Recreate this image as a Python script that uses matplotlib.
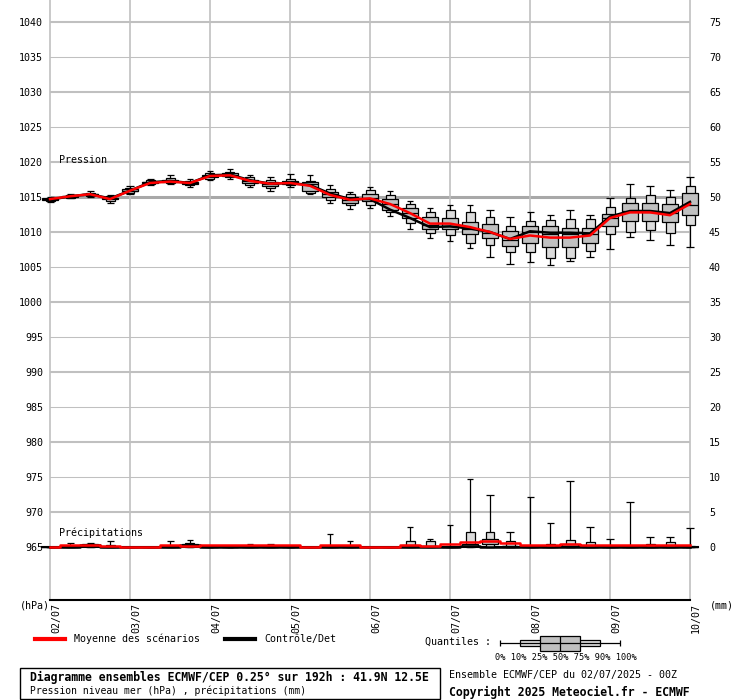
"""Ensemble diagram ECMWF/CEP: sea level pressure and precipitation boxes, Rome 02/07/2025."""

import numpy as np
import matplotlib
matplotlib.use("Agg")
import matplotlib.pyplot as plt
from matplotlib.lines import Line2D
from matplotlib.patches import Rectangle
from matplotlib.transforms import ScaledTranslation

plt.rcParams["font.family"] = ["DejaVu Sans Mono", "DejaVu Sans"]

# forecast steps (hours) and day labels
HOURS = list(range(0, 193, 6))
DAY_HOURS = list(range(0, 193, 24))
DAY_LABELS = ["02/07", "03/07", "04/07", "05/07", "06/07", "07/07", "08/07", "09/07", "10/07"]

# pressure quantiles (hPa)
P_MIN = [1014.3, 1014.8, 1015.0, 1014.2, 1015.5, 1016.7, 1016.9, 1016.5, 1017.4, 1017.6, 1016.4,
         1015.9, 1016.4, 1015.5, 1014.2, 1013.3, 1013.4, 1012.3, 1010.4, 1009.1, 1008.7, 1007.7,
         1006.4, 1005.4, 1005.7, 1005.3, 1005.9, 1006.4, 1007.6, 1009.3, 1008.9, 1008.1, 1007.8]
P_Q10 = [1014.5, 1014.9, 1015.2, 1014.5, 1015.6, 1016.8, 1017.0, 1016.7, 1017.6, 1017.8, 1016.7,
         1016.3, 1016.7, 1015.6, 1014.6, 1013.8, 1013.9, 1012.9, 1011.3, 1009.8, 1009.6, 1008.4,
         1008.2, 1007.1, 1007.2, 1006.3, 1006.3, 1007.3, 1009.7, 1010.0, 1010.3, 1009.8, 1011.0]
P_Q25 = [1014.6, 1015.0, 1015.3, 1014.7, 1015.8, 1017.0, 1017.2, 1016.9, 1017.8, 1018.0, 1017.0,
         1016.6, 1016.9, 1015.9, 1015.0, 1014.2, 1014.5, 1013.1, 1012.0, 1010.4, 1010.4, 1009.7,
         1009.2, 1008.0, 1008.4, 1007.8, 1007.9, 1008.5, 1010.8, 1011.6, 1011.6, 1011.4, 1012.4]
P_MED = [1014.7, 1015.1, 1015.4, 1014.8, 1015.9, 1017.1, 1017.3, 1017.0, 1018.0, 1018.2, 1017.3,
         1016.9, 1017.1, 1016.8, 1015.4, 1014.6, 1014.8, 1014.0, 1012.7, 1011.0, 1010.9, 1010.5,
         1009.8, 1008.8, 1010.0, 1009.7, 1009.7, 1009.7, 1012.0, 1013.0, 1012.9, 1012.7, 1013.9]
P_Q75 = [1014.8, 1015.2, 1015.5, 1014.9, 1016.1, 1017.2, 1017.4, 1017.1, 1018.2, 1018.4, 1017.5,
         1017.1, 1017.3, 1017.1, 1015.7, 1015.0, 1015.4, 1014.7, 1013.5, 1012.1, 1012.0, 1011.4,
         1011.1, 1010.1, 1010.8, 1010.8, 1010.5, 1010.6, 1012.6, 1014.2, 1014.2, 1014.0, 1015.5]
P_Q90 = [1014.9, 1015.3, 1015.6, 1015.1, 1016.3, 1017.4, 1017.7, 1017.3, 1018.4, 1018.6, 1017.8,
         1017.5, 1017.6, 1017.3, 1016.1, 1015.4, 1016.0, 1015.3, 1014.0, 1012.8, 1013.2, 1012.8,
         1012.2, 1010.9, 1011.5, 1011.7, 1011.9, 1011.8, 1013.6, 1014.9, 1015.3, 1015.0, 1016.6]
P_MAX = [1015.0, 1015.4, 1015.9, 1015.3, 1016.6, 1017.6, 1018.1, 1017.6, 1018.7, 1019.0, 1018.1,
         1017.9, 1018.3, 1018.2, 1016.7, 1015.7, 1016.4, 1015.8, 1014.5, 1013.4, 1013.8, 1013.8,
         1013.1, 1012.2, 1012.9, 1012.5, 1013.1, 1012.5, 1014.8, 1016.8, 1016.6, 1016.0, 1017.8]
P_MEAN = [1014.7, 1015.1, 1015.4, 1014.7, 1015.9, 1017.0, 1017.2, 1017.0, 1018.0, 1018.1, 1017.3,
          1016.9, 1017.0, 1016.6, 1015.3, 1014.6, 1014.8, 1014.0, 1012.7, 1011.2, 1011.2, 1010.7,
          1010.0, 1009.0, 1009.5, 1009.2, 1009.2, 1009.5, 1012.0, 1012.8, 1012.8, 1012.4, 1014.0]
P_CTRL = [1014.6, 1015.1, 1015.4, 1014.8, 1015.9, 1017.1, 1017.3, 1017.0, 1018.1, 1018.2, 1017.4,
          1016.9, 1017.0, 1016.7, 1015.5, 1014.7, 1014.7, 1013.2, 1012.0, 1010.7, 1010.8, 1010.5,
          1010.0, 1009.0, 1010.1, 1009.9, 1009.9, 1009.8, 1012.2, 1013.0, 1013.0, 1012.7, 1014.3]

# precipitation quantiles (mm per 6h)
R_MIN = [0.0] * 33
R_Q10 = [0.0] * 33
R_Q25 = [0, 0, 0.1, 0, 0, 0, 0, 0.1, 0, 0, 0, 0, 0, 0, 0, 0, 0,
         0, 0, 0, 0, 0.1, 0.5, 0, 0, 0, 0.1, 0, 0, 0, 0, 0, 0]
R_MED = [0, 0, 0.2, 0, 0, 0, 0, 0.2, 0, 0, 0, 0, 0, 0, 0, 0, 0,
         0, 0.1, 0.1, 0, 0.2, 0.8, 0.1, 0, 0, 0.2, 0, 0, 0, 0, 0, 0]
R_Q75 = [0, 0, 0.4, 0, 0, 0, 0, 0.4, 0, 0, 0, 0, 0, 0, 0, 0, 0,
         0, 0.3, 0.2, 0, 0.5, 1.1, 0.2, 0, 0, 0.4, 0, 0, 0, 0, 0, 0]
R_Q90 = [0, 0.2, 0.5, 0.3, 0, 0, 0.2, 0.6, 0, 0, 0.2, 0.2, 0, 0, 0.2, 0.2, 0,
         0, 0.9, 0.8, 0.1, 2.1, 2.1, 0.8, 0.1, 0.4, 1.0, 0.7, 0.1, 0.1, 0.5, 0.7, 0.1]
R_MAX = [0, 0.6, 0.6, 0.8, 0, 0, 0.9, 1.0, 0, 0, 0.5, 0.5, 0, 0, 1.9, 0.9, 0,
         0, 2.9, 1.2, 3.2, 9.7, 7.4, 2.2, 7.1, 3.4, 9.5, 2.8, 1.2, 6.4, 1.4, 1.5, 2.7]
R_MEAN = [0, 0.3, 0.3, 0.2, 0, 0, 0.3, 0.2, 0.3, 0.3, 0.3, 0.3, 0.3, 0, 0.3, 0.3, 0,
          0, 0.3, 0.1, 0.4, 0.7, 0.9, 0.6, 0.3, 0.3, 0.5, 0.3, 0.3, 0.3, 0.3, 0.3, 0.3]
R_CTRL = [0, 0, 0.3, 0, 0, 0, 0, 0.3, 0, 0, 0, 0, 0, 0, 0, 0, 0,
          0, 0, 0, 0, 0.1, 0, 0, 0, 0, 0, 0, 0, 0, 0, 0, 0]

PRECIP_BASE = 965  # hPa level used as 0 mm
P_TICKS = list(range(965, 1041, 5))
QUANT_LABELS = "0% 10% 25% 50% 75% 90% 100%"

W, H = 740, 700


def fx(px):
    return px / W


def fy(py):
    return 1 - py / H


def draw_boxes(ax, x, lo, q10, q25, q50, q75, q90, hi):
    """Whiskers 0-100%, narrow light box 10-90%, wide box 25-75%, median."""
    x = np.asarray(x, dtype=float)
    cap, outer, inner = 2.1, 2.7, 4.8
    ax.vlines(x, lo, hi, color="black", lw=0.9, zorder=3, clip_on=False)
    ax.hlines(hi, x - cap / 2, x + cap / 2, color="black", lw=0.9, zorder=3, clip_on=False)
    ax.hlines(lo, x - cap / 2, x + cap / 2, color="black", lw=0.9, zorder=3, clip_on=False)
    bars = ax.bar(x, np.subtract(q90, q10), bottom=q10, width=outer, color="#dcdcdc",
                  edgecolor="black", lw=0.9, zorder=4)
    for b in bars:
        b.set_clip_on(False)
    bars = ax.bar(x, np.subtract(q75, q25), bottom=q25, width=inner, color="#c0c0c0",
                  edgecolor="black", lw=0.9, zorder=5)
    for b in bars:
        b.set_clip_on(False)
    ax.hlines(q50, x - inner / 2, x + inner / 2, color="black", lw=0.9, zorder=5, clip_on=False)


fig = plt.figure(figsize=(7.4, 7.0), dpi=100)
fig.patch.set_facecolor("white")

ax = fig.add_axes([fx(50), fy(600), fx(690) - fx(50), fy(0) - fy(600)])
ax.set_xlim(0, 192)
ax.set_ylim(965 - 53 / 7, 965 + 547 / 7)

# grid
for p in P_TICKS[1:]:
    ax.axhline(p, color="#c0c0c0", lw=1.5 if p % 10 == 0 else 0.75, zorder=0)
ax.axhline(1015, color="#a8a8a8", lw=2.2, zorder=0)
for h in DAY_HOURS:
    ax.axvline(h, color="#c0c0c0", lw=1.2, zorder=0, clip_on=False)
ax.axhline(PRECIP_BASE, xmin=-8 / 640, xmax=1 + 8 / 640, color="black", lw=1.5,
           zorder=2, clip_on=False)

for side in ["top", "left", "right"]:
    ax.spines[side].set_visible(False)
ax.spines["bottom"].set_color("black")
ax.spines["bottom"].set_linewidth(1.5)

# left / right tick labels
ax.set_yticks(P_TICKS, [str(p) for p in P_TICKS])
ax.tick_params(axis="y", length=0, pad=5, labelsize=7.2)
sec = ax.secondary_yaxis("right", functions=(lambda p: p - PRECIP_BASE,
                                            lambda m: m + PRECIP_BASE))
sec.set_yticks([p - PRECIP_BASE for p in P_TICKS],
               [str(p - PRECIP_BASE) for p in P_TICKS])
sec.tick_params(length=0, pad=13.7, labelsize=7.2)
sec.spines["right"].set_visible(False)

ax.set_xticks(DAY_HOURS, DAY_LABELS, rotation=90)
ax.tick_params(axis="x", length=0, pad=2, labelsize=7.2)
shift = ScaledTranslation(6 / 100, 0, fig.dpi_scale_trans)
for lbl in ax.get_xticklabels():
    lbl.set_transform(lbl.get_transform() + shift)

# pressure
draw_boxes(ax, HOURS, P_MIN, P_Q10, P_Q25, P_MED, P_Q75, P_Q90, P_MAX)
ax.plot(HOURS, P_CTRL, color="black", lw=1.8, zorder=6, clip_on=False)
ax.plot(HOURS, P_MEAN, color="red", lw=1.8, zorder=7, clip_on=False)

# precipitation (drawn on the same scale, 0 mm = 965 hPa)
rq = [np.add(PRECIP_BASE, v) for v in (R_MIN, R_Q10, R_Q25, R_MED, R_Q75, R_Q90, R_MAX)]
draw_boxes(ax, HOURS, *rq)
ax.step(HOURS, np.add(PRECIP_BASE, R_CTRL), where="mid", color="black", lw=1.8, zorder=6,
        clip_on=False)
ax.step(HOURS, np.add(PRECIP_BASE, R_MEAN), where="mid", color="red", lw=1.8, zorder=7,
        clip_on=False)

ax.text(2.7, 1020.3, "Pression", fontsize=7.2, va="center", ha="left")
ax.text(2.7, 967.1, "Précipitations", fontsize=7.2, va="center", ha="left")

fig.text(fx(20), fy(606), "(hPa)", fontsize=7.2, va="center", ha="left")
fig.text(fx(710), fy(606), "(mm)", fontsize=7.2, va="center", ha="left")

# legend
handles = [Line2D([], [], color="red", lw=3.0), Line2D([], [], color="black", lw=3.0)]
fig.legend(handles, ["Moyenne des scénarios", "Contrôle/Det"], loc="center left",
           bbox_to_anchor=(fx(35), fy(639)), ncol=2, frameon=False, fontsize=7.2,
           borderpad=0, borderaxespad=0, handlelength=3.0, handletextpad=0.9,
           columnspacing=2.5)

# quantile key
fig.text(fx(425), fy(642), "Quantiles :", fontsize=7.2, va="center", ha="left")
qax = fig.add_axes([fx(490), fy(655), fx(630) - fx(490), fy(631) - fy(655)])
qax.set_xlim(-0.5, 6.5)
qax.set_ylim(-1, 1)
qax.axis("off")
qpos = list(range(7))
qax.hlines(0, qpos[0], qpos[6], color="black", lw=0.9)
qax.vlines([qpos[0], qpos[6]], -0.21, 0.21, color="black", lw=0.9)
qax.barh(0, qpos[5] - qpos[1], left=qpos[1], height=0.46, color="#dcdcdc",
         edgecolor="black", lw=0.9)
qax.barh(0, qpos[4] - qpos[2], left=qpos[2], height=1.25, color="#c0c0c0",
         edgecolor="black", lw=0.9)
qax.vlines(qpos[3], -0.625, 0.625, color="black", lw=0.9)
fig.text(fx(495), fy(657), QUANT_LABELS, fontsize=6.2, va="center", ha="left")

# title box
fig.add_artist(Rectangle((fx(20), fy(699)), fx(440) - fx(20), fy(668) - fy(699),
                         transform=fig.transFigure, fill=False, edgecolor="black", lw=1))
fig.text(fx(30), fy(677), "Diagramme ensembles ECMWF/CEP 0.25° sur 192h : 41.9N 12.5E",
         fontsize=8.3, fontweight="bold", va="center", ha="left")
fig.text(fx(30), fy(691), "Pression niveau mer (hPa) , précipitations (mm)",
         fontsize=7.0, va="center", ha="left")
fig.text(fx(449), fy(675), "Ensemble ECMWF/CEP du 02/07/2025 - 00Z",
         fontsize=7.2, va="center", ha="left")
fig.text(fx(449), fy(692), "Copyright 2025 Meteociel.fr - ECMWF",
         fontsize=8.3, fontweight="bold", va="center", ha="left")

fig.savefig("out.png", dpi=100)
plt.close(fig)
